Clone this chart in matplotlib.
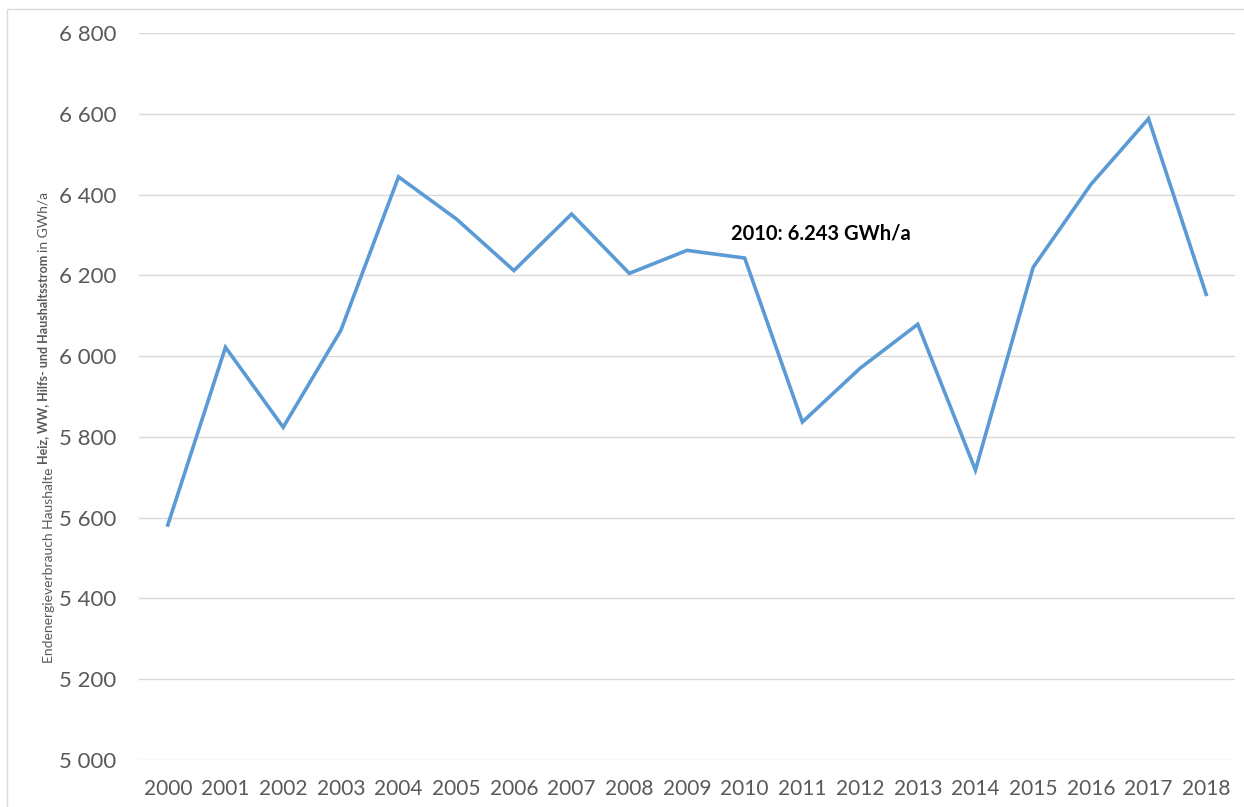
import matplotlib.pyplot as plt
from matplotlib.patches import Rectangle

years = ['2000', '2001', '2002', '2003', '2004', '2005', '2006', '2007', '2008', '2009',
         '2010', '2011', '2012', '2013', '2014', '2015', '2016', '2017', '2018']
energy = [5582, 6022, 5824, 6064, 6444, 6340, 6212, 6352, 6205, 6262,
          6243, 5837, 5970, 6079, 5718, 6220, 6425, 6588, 6153]
yticks = [5000, 5200, 5400, 5600, 5800, 6000, 6200, 6400, 6600, 6800]

plt.rcParams['font.family'] = ['Lato', 'DejaVu Sans']

fig = plt.figure(figsize=(12.44, 8.07), dpi=100)
ax = fig.add_axes([0.1117, 0.0582, 0.8811, 0.9008])

x = list(range(len(years)))
ax.plot(x, energy, color='#5B9BD5', linewidth=2.6, solid_joinstyle='miter', zorder=3)

ax.set_xlim(-0.5, len(years) - 0.5)
ax.set_ylim(5000, 6800)
ax.set_xticks(x)
ax.set_xticklabels(years, fontsize=15, color='#595959')
ax.set_yticks(yticks)
ax.set_yticklabels([f'{v // 1000} {v % 1000:03d}' for v in yticks], fontsize=16, color='#595959')
ax.tick_params(axis='both', length=0)
ax.tick_params(axis='x', pad=14)
ax.tick_params(axis='y', pad=16)
ax.grid(axis='y', color='#D9D9D9', linewidth=1)
ax.set_axisbelow(True)
for s in ax.spines.values():
    s.set_visible(False)

# Beschriftung 2010
i2010 = years.index('2010')
ax.annotate(f'2010: {energy[i2010] / 1000:.3f} GWh/a', (i2010, energy[i2010]),
            xytext=(55, 13), textcoords='offset points', fontsize=14.5, fontweight='bold',
            color='black', ha='center', va='baseline')

# Achsentitel aus drei Teilen
fig.canvas.draw()
renderer = fig.canvas.get_renderer()
y0 = (807 - 663) / 807
parts = [('Endenergieverbrauch Haushalte ', 'normal', 10, 0.0),
         ('Heiz, WW, Hilfs- und Haushaltsstrom ', 'bold', 9, -0.004),
         ('in GWh/a', 'normal', 10, -0.004)]
for txt, w, fs, dx in parts:
    t = fig.text(0.039 + dx, y0, txt, rotation=90, fontsize=fs, fontweight=w,
                 color='#595959', ha='center', va='bottom')
    bb = t.get_window_extent(renderer)
    y0 += bb.height / fig.bbox.height

fig.patches.append(Rectangle((0.006, -0.1), 1.5, 1.089, transform=fig.transFigure,
                             fill=False, edgecolor='#D9D9D9', linewidth=1))

fig.savefig('out.png', dpi=100)
